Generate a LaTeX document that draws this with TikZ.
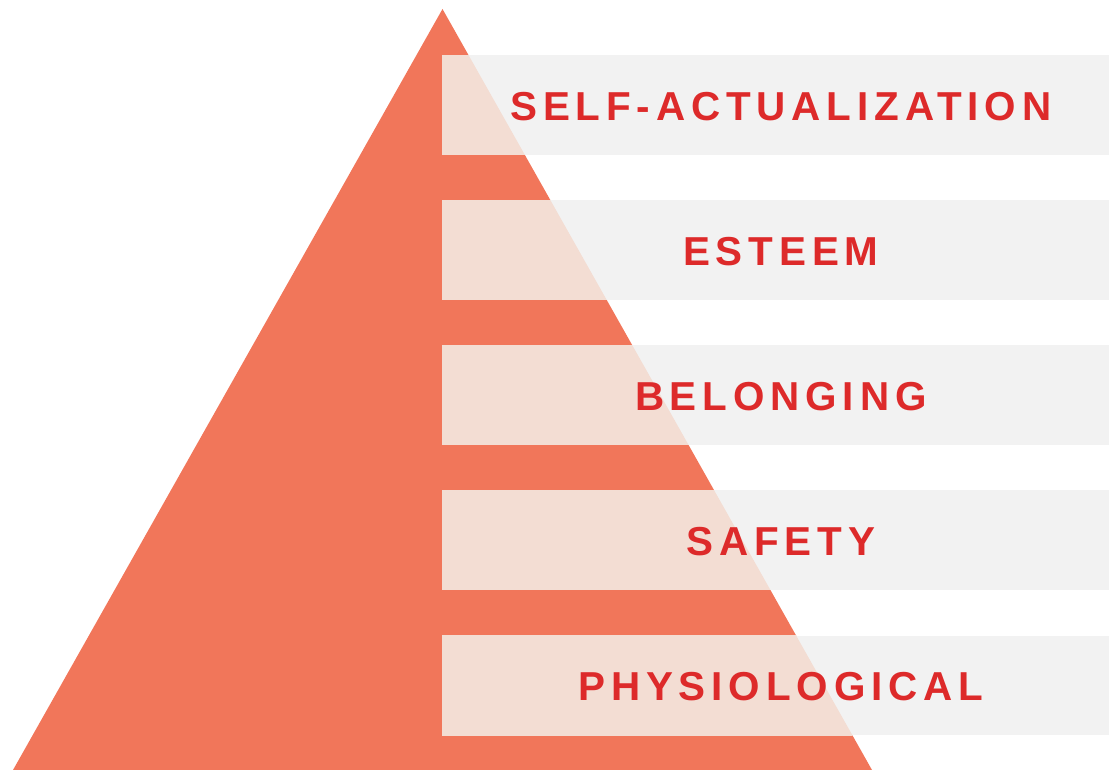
\documentclass[tikz,border=0pt]{standalone}
\usepackage{fontspec}
\newfontfamily\labelfont{Liberation Sans}[LetterSpace=14.5]
\definecolor{pyramidorange}{HTML}{F1765A}
\definecolor{bandgrey}{HTML}{F2F2F2}
\definecolor{overlappink}{HTML}{F3DDD3}
\definecolor{labelred}{HTML}{DD2A2A}
\tikzset{
  band/.style={anchor=west, rectangle, inner sep=0pt, minimum width=13.34cm, minimum height=2cm,
    fill=bandgrey},
  bandlabel/.style={inner sep=0pt, text=labelred, font=\labelfont\bfseries\fontsize{23}{27}\selectfont}
}
\begin{document}
\begin{tikzpicture}[x=0.02cm, y=-0.02cm]
\useasboundingbox (0,0) rectangle (1109,770);
\coordinate (top) at (442.5,9);
\coordinate (bl) at (13,770);
\coordinate (br) at (872,770);
\fill[pyramidorange] (top) -- (br) -- (bl) -- cycle;
% bands
\node[band] (selfact) at (442,105) {};
\node[band] (esteem) at (442,250) {};
\node[band] (belong) at (442,395) {};
\node[band] (safety) at (442,540) {};
\node[band] (physio) at (442,685.5) {};
% where the bands cross the pyramid
\begin{scope}
\clip (top) -- (br) -- (bl) -- cycle;
\fill[overlappink] (selfact.south west) rectangle (selfact.north east);
\fill[overlappink] (esteem.south west) rectangle (esteem.north east);
\fill[overlappink] (belong.south west) rectangle (belong.north east);
\fill[overlappink] (safety.south west) rectangle (safety.north east);
\fill[overlappink] (physio.south west) rectangle (physio.north east);
\end{scope}
% labels
\node[bandlabel] (selfacttext) at ([shift={(5,1.5)}]selfact.center) {SELF-ACTUALIZATION};
\node[bandlabel] (esteemtext) at ([shift={(5,1.5)}]esteem.center) {ESTEEM};
\node[bandlabel] (belongtext) at ([shift={(5,1.5)}]belong.center) {BELONGING};
\node[bandlabel] (safetytext) at ([shift={(5,1.5)}]safety.center) {SAFETY};
\node[bandlabel] (physiotext) at ([shift={(5,1.5)}]physio.center) {PHYSIOLOGICAL};
\end{tikzpicture}
\end{document}
